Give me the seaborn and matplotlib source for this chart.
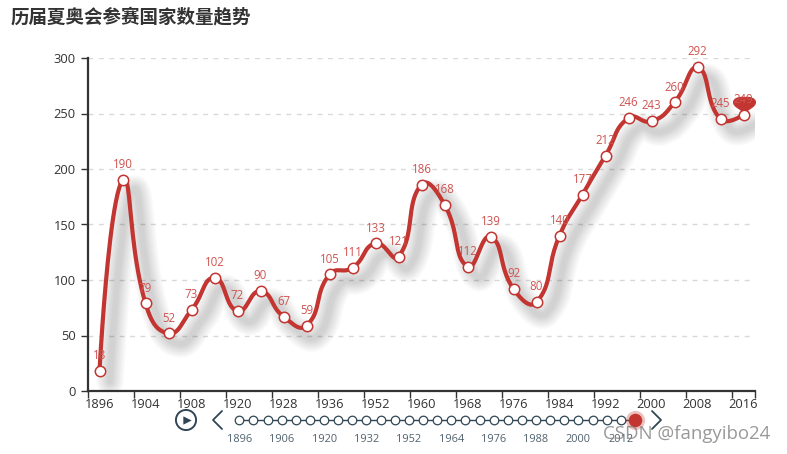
import numpy as np
import pandas as pd
import matplotlib
matplotlib.use('Agg')
import matplotlib.pyplot as plt
import matplotlib.patheffects as pe
from matplotlib.path import Path
import seaborn as sns

years = [1896, 1900, 1904, 1906, 1908, 1912, 1920, 1924, 1928, 1932, 1936, 1948, 1952, 1956, 1960,
         1964, 1968, 1972, 1976, 1980, 1984, 1988, 1992, 1996, 2000, 2004, 2008, 2012, 2016]
counts = [18, 190, 79, 52, 73, 102, 72, 90, 67, 59, 105, 111, 133, 121, 186,
          168, 112, 139, 92, 80, 140, 177, 212, 246, 243, 260, 292, 245, 249]
y_ticks = [0, 50, 100, 150, 200, 250, 300]
title = '历届夏奥会参赛国家数量趋势'
watermark = 'CSDN @fangyibo24'

RED = '#c23531'
DARK = '#333333'
SLATE = '#304654'
NUM_FONT = ['Open Sans', 'DejaVu Sans']
W, H = 787, 454


def smooth_curve(xs, ys, sx, sy, smooth=0.5, n=24):
    # same kind of spline echarts uses, control points worked out in pixel space
    p = np.column_stack([np.asarray(xs, float) * sx, np.asarray(ys, float) * sy])
    lo, hi = p.min(axis=0), p.max(axis=0)
    out = []
    cp0 = p[0]
    for i in range(len(p) - 1):
        if i + 2 < len(p):
            v = (p[i + 2] - p[i]) * smooth
            d0 = np.linalg.norm(p[i + 1] - p[i])
            d1 = np.linalg.norm(p[i + 2] - p[i + 1])
            ratio = d1 / (d0 + d1)
            cp1 = np.clip(p[i + 1] - v * (1 - ratio), lo, hi)
            nxt = np.clip(p[i + 1] + v * ratio, lo, hi)
        else:
            cp1 = p[i + 1]
            nxt = p[i + 1]
        t = np.linspace(0, 1, n, endpoint=False)[:, None]
        out.append((1 - t) ** 3 * p[i] + 3 * (1 - t) ** 2 * t * cp0 + 3 * (1 - t) * t ** 2 * cp1 + t ** 3 * p[i + 1])
        cp0 = nxt
    out.append(p[-1:])
    out = np.vstack(out)
    return out[:, 0] / sx, out[:, 1] / sy


sns.set_theme(style='white')
plt.rcParams['font.family'] = ['Noto Sans CJK SC', 'DejaVu Sans']

fig = plt.figure(figsize=(W / 100, H / 100), dpi=100)
ax = fig.add_axes([88 / W, 1 - 391 / H, (755 - 88) / W, (391 - 58) / H])

idx = np.arange(len(years))
ax.set_xlim(-0.5, len(years) - 0.5)
ax.set_ylim(0, 300)

# --- line with blurred shadow ---
cx, cy = smooth_curve(idx, counts, 23.0, 1.11)
curve = pd.DataFrame({'x': cx, 'y': cy})
sns.lineplot(data=curve, x='x', y='y', sort=False, estimator=None, color=RED, linewidth=3.0, ax=ax, zorder=3)
line = ax.lines[-1]
line.set_solid_capstyle('round')
shadow = [pe.SimpleLineShadow(offset=(7.5, -7.5), shadow_color='#000000', alpha=0.018, linewidth=w)
          for w in (20, 18, 16, 14, 12, 10, 8, 6, 4)]
line.set_path_effects(shadow + [pe.Normal()])

df = pd.DataFrame({'i': idx, 'n': counts})
sns.scatterplot(data=df, x='i', y='n', s=56, color='white', edgecolor=RED, linewidth=1.1, ax=ax, zorder=4, clip_on=False)

for i, n in zip(idx, counts):
    ax.annotate(str(n), (i, n), xytext=(0, 11), textcoords='offset points', ha='center', va='center',
                fontsize=8.3, family=NUM_FONT, color='#cf5350', zorder=5)

# marker pin on the last point
pin = Path([(0, 0.15), (-0.35, 0.55), (-1, 0.7), (-1, 1.15), (-1, 1.5), (-0.45, 1.72), (0, 1.6),
            (0.45, 1.72), (1, 1.5), (1, 1.15), (1, 0.7), (0.35, 0.55), (0, 0.15), (0, 0.15)],
           [Path.MOVETO, Path.CURVE4, Path.CURVE4, Path.CURVE4, Path.CURVE4, Path.CURVE4, Path.CURVE4,
            Path.CURVE4, Path.CURVE4, Path.CURVE4, Path.CURVE4, Path.CURVE4, Path.CURVE4, Path.CLOSEPOLY])
ax.scatter([idx[-1]], [counts[-1]], marker=pin, s=815, color=RED, linewidth=0, zorder=3.5, clip_on=False)

# --- axes ---
ax.grid(False)
ax.set_xlabel('')
ax.set_ylabel('')
ax.set_yticks(y_ticks)
ax.set_xticks(idx[::2])
ax.set_xticklabels([str(y) for y in years[::2]])
ax.set_xticks(np.arange(-0.5, len(years), 2).tolist() + [len(years) - 0.5], minor=True)
ax.tick_params(axis='x', which='major', length=0, pad=5, labelsize=9.3, labelcolor=DARK)
ax.tick_params(axis='x', which='minor', length=5, width=1, color=DARK, bottom=True)
ax.tick_params(axis='y', length=5, width=1, color=DARK, left=True, pad=4, labelsize=9.3, labelcolor=DARK)
for lab in ax.get_xticklabels() + ax.get_yticklabels():
    lab.set_family(NUM_FONT)
for v in y_ticks[1:]:
    ax.axhline(v, color='#d9d9d9', linewidth=1, dashes=(3.5, 4), zorder=1)
for s in ('top', 'right'):
    ax.spines[s].set_visible(False)
for s in ('left', 'bottom'):
    ax.spines[s].set_color(DARK)
    ax.spines[s].set_linewidth(1.6)

fig.text(11 / W, 1 - 17 / H, title, fontsize=13.3, fontweight='bold', color=DARK, va='center', ha='left')

# --- timeline, drawn on an overlay in pixel units ---
tl = fig.add_axes([0, 0, 1, 1], facecolor='none')
tl.set_xlim(0, W)
tl.set_ylim(H, 0)
tl.axis('off')

tx = 239.3 + idx * 14.13
ty = 420
tl.plot(tx, [ty] * len(tx), color=SLATE, linewidth=1, zorder=1)
tl.scatter(tx[:-1], [ty] * (len(tx) - 1), s=38, facecolor='white', edgecolor=SLATE, linewidth=0.9, zorder=2)
tl.scatter(tx[-1], ty, s=190, color=RED, alpha=0.3, linewidth=0, zorder=2)
tl.scatter(tx[-1], ty, s=95, color=RED, linewidth=0, zorder=3)
for i in idx[::3]:
    tl.text(tx[i], 439, str(years[i]), ha='center', va='center', fontsize=7.9, family=NUM_FONT,
            color=SLATE, alpha=0.85, zorder=2)

tl.scatter(186, ty, s=210, facecolor='none', edgecolor=SLATE, linewidth=1.4)
tl.scatter(186.5, ty, s=36, marker='>', color=SLATE, linewidth=0)
tl.plot([222, 213, 222], [411, 420, 429], color=SLATE, linewidth=1.3)
tl.plot([652, 661, 652], [411, 420, 429], color=SLATE, linewidth=1.3)

tl.text(603, 434, watermark, fontsize=13.4, family=NUM_FONT, color='#777777',
        alpha=0.75, ha='left', va='center', zorder=6)

fig.savefig('out.png', dpi=100)
